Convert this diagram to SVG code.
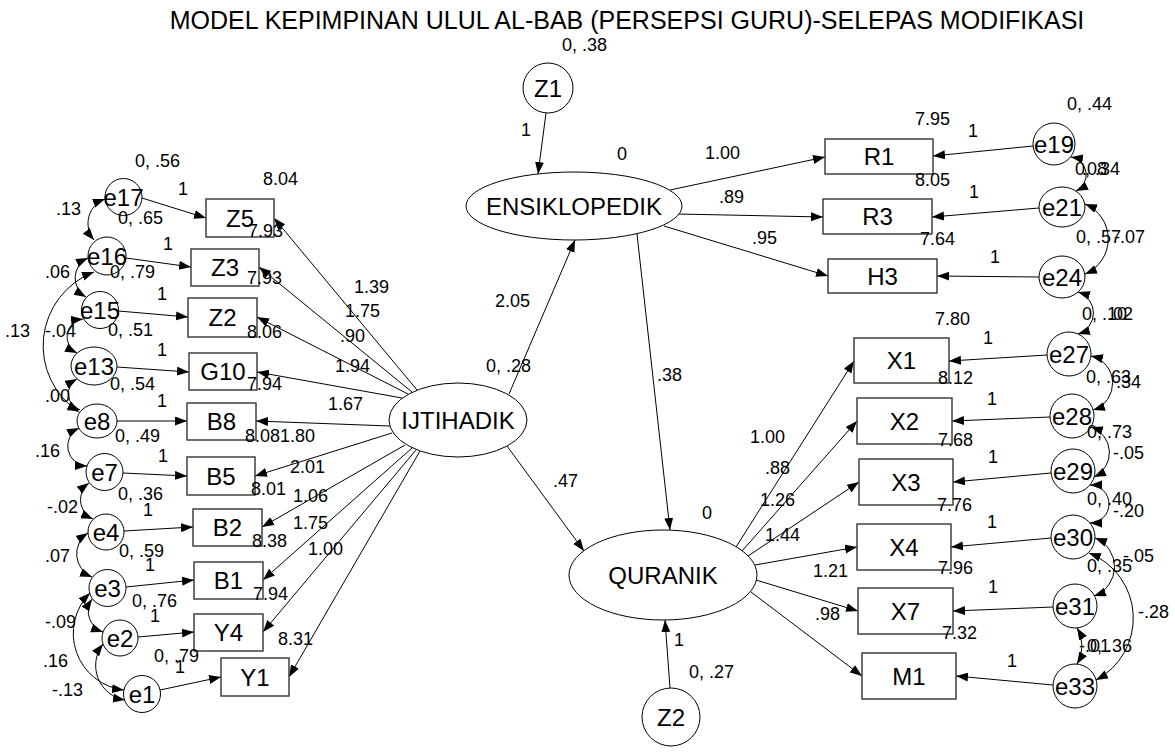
<svg xmlns="http://www.w3.org/2000/svg" width="1175" height="756" viewBox="0 0 1175 756">
<style>
text{font-family:"Liberation Sans",Arial,sans-serif;fill:#000}
.t{font-size:25px}
.n{font-size:18px}
.c{text-anchor:middle}
.lb{font-size:24px;text-anchor:middle}
.box{fill:#fff;stroke:#333;stroke-width:1.4}
.nd{fill:#fff;stroke:#000;stroke-width:1}
.ln{fill:none;stroke:#000;stroke-width:1;marker-end:url(#ah)}
.cv{fill:none;stroke:#000;stroke-width:1;marker-start:url(#ah);marker-end:url(#ah)}
</style>
<defs>
<marker id="ah" markerUnits="userSpaceOnUse" markerWidth="13" markerHeight="10" refX="12" refY="4.5" orient="auto-start-reverse"><path d="M0,0 L12,4.5 L0,9 z" fill="#000"/></marker>
</defs>
<rect width="1175" height="756" fill="#fff"/>
<text class="t c" x="627" y="29">MODEL KEPIMPINAN ULUL AL-BAB (PERSEPSI GURU)-SELEPAS MODIFIKASI</text>

<g id="connectors">
<line class="ln" x1="417" y1="390" x2="274" y2="218"/>
<line class="ln" x1="412" y1="392" x2="259" y2="267"/>
<line class="ln" x1="408" y1="394" x2="257" y2="317"/>
<line class="ln" x1="402" y1="398" x2="257" y2="372"/>
<line class="ln" x1="390" y1="426" x2="256" y2="421"/>
<line class="ln" x1="392" y1="433" x2="255" y2="476"/>
<line class="ln" x1="405" y1="445" x2="262" y2="527"/>
<line class="ln" x1="412" y1="448" x2="263" y2="580"/>
<line class="ln" x1="416" y1="450" x2="263" y2="632"/>
<line class="ln" x1="420" y1="451" x2="289" y2="677"/>
<line class="ln" x1="509" y1="394" x2="575" y2="240"/>
<line class="ln" x1="507" y1="446" x2="584" y2="551"/>
<line class="ln" x1="546" y1="113" x2="538" y2="174"/>
<line class="ln" x1="637" y1="234" x2="670" y2="530"/>
<line class="ln" x1="670" y1="688" x2="665" y2="620"/>
<line class="ln" x1="670" y1="190" x2="825" y2="157"/>
<line class="ln" x1="678" y1="214" x2="823" y2="217"/>
<line class="ln" x1="664" y1="226" x2="828" y2="276"/>
<line class="ln" x1="736" y1="547" x2="854" y2="361"/>
<line class="ln" x1="742" y1="551" x2="857" y2="421"/>
<line class="ln" x1="748" y1="556" x2="859" y2="482"/>
<line class="ln" x1="755" y1="565" x2="857" y2="547"/>
<line class="ln" x1="756" y1="580" x2="858" y2="611"/>
<line class="ln" x1="751" y1="592" x2="862" y2="676"/>
<line class="ln" x1="142" y1="198" x2="206" y2="218"/>
<line class="ln" x1="126" y1="258" x2="191" y2="267"/>
<line class="ln" x1="118.5" y1="311" x2="188" y2="317"/>
<line class="ln" x1="117" y1="367" x2="189" y2="372"/>
<line class="ln" x1="117" y1="421" x2="187" y2="421"/>
<line class="ln" x1="123" y1="473" x2="187" y2="476"/>
<line class="ln" x1="124" y1="531" x2="193" y2="527"/>
<line class="ln" x1="126" y1="587" x2="194" y2="580"/>
<line class="ln" x1="138" y1="637" x2="194" y2="632"/>
<line class="ln" x1="160" y1="690" x2="221" y2="677"/>
<line class="ln" x1="1033" y1="146" x2="933" y2="156"/>
<line class="ln" x1="1039" y1="208" x2="932" y2="217"/>
<line class="ln" x1="1039" y1="277" x2="937" y2="276"/>
<line class="ln" x1="1047" y1="355" x2="949" y2="361"/>
<line class="ln" x1="1050" y1="417" x2="952" y2="421"/>
<line class="ln" x1="1051" y1="473" x2="953" y2="482"/>
<line class="ln" x1="1051" y1="538" x2="951" y2="547"/>
<line class="ln" x1="1053" y1="607" x2="953" y2="611"/>
<line class="ln" x1="1053" y1="685" x2="956" y2="676"/>
<path class="cv" d="M105,199 A26,26 0 0 0 94,240"/>
<path class="cv" d="M88,258 A22,22 0 0 0 86,297"/>
<path class="cv" d="M94,272 A79,79 0 0 0 79,412"/>
<path class="cv" d="M83,319 A18,18 0 0 0 77,353"/>
<path class="cv" d="M77,379 A17,17 0 0 0 80,410"/>
<path class="cv" d="M79,428 A20,20 0 0 0 87,466"/>
<path class="cv" d="M89,483 A21,21 0 0 0 93,519"/>
<path class="cv" d="M88,533 A25,25 0 0 0 92,577"/>
<path class="cv" d="M92,599 A22,22 0 0 0 103,632"/>
<path class="cv" d="M90,593 A57,57 0 0 0 124,690"/>
<path class="cv" d="M103,644 A35,35 0 0 0 125,700"/>
<path class="cv" d="M1071,157 A18,18 0 0 1 1076,191"/>
<path class="cv" d="M1085,204 A38,38 0 0 1 1085,274"/>
<path class="cv" d="M1078,292 A22,22 0 0 1 1078,334"/>
<path class="cv" d="M1091,356 A28,28 0 0 1 1093,410"/>
<path class="cv" d="M1091,427 A27,27 0 0 1 1094,477"/>
<path class="cv" d="M1090,485 A19,19 0 0 1 1090,523"/>
<path class="cv" d="M1095,538 A31,31 0 0 1 1094,596"/>
<path class="cv" d="M1089,553 A70,70 0 0 1 1096,680"/>
<path class="cv" d="M1077,628 A35,35 0 0 1 1077,664"/>
</g>

<g id="IJTIHADIK"><ellipse class="nd" cx="458" cy="420" rx="69" ry="37"/><text class="lb" x="458" y="428.5">IJTIHADIK</text></g>
<g id="ENSIKLOPEDIK"><ellipse class="nd" cx="574" cy="206" rx="108" ry="34"/><text class="lb" x="574" y="214.5">ENSIKLOPEDIK</text></g>
<g id="QURANIK"><ellipse class="nd" cx="663" cy="575" rx="94" ry="45"/><text class="lb" x="663" y="583.5">QURANIK</text></g>
<g id="Z1"><circle class="nd" cx="548" cy="88" r="25"/><text class="lb" x="548" y="96.5">Z1</text></g>
<g id="Z2"><circle class="nd" cx="671" cy="717" r="29"/><text class="lb" x="671" y="725.5">Z2</text></g>

<g id="Z5b"><rect class="box" x="206" y="199" width="68" height="38"/><text class="lb" x="240" y="226.5">Z5</text></g>
<g id="Z3b"><rect class="box" x="191" y="249" width="68" height="37"/><text class="lb" x="225" y="276">Z3</text></g>
<g id="Z2b"><rect class="box" x="188" y="298" width="69" height="39"/><text class="lb" x="222.5" y="326">Z2</text></g>
<g id="G10"><rect class="box" x="189" y="353" width="68" height="37"/><text class="lb" x="223" y="380">G10</text></g>
<g id="B8"><rect class="box" x="187" y="403" width="69" height="37"/><text class="lb" x="221.5" y="430">B8</text></g>
<g id="B5"><rect class="box" x="187" y="457" width="68" height="38"/><text class="lb" x="221" y="484.5">B5</text></g>
<g id="B2"><rect class="box" x="193" y="509" width="69" height="37"/><text class="lb" x="227.5" y="536">B2</text></g>
<g id="B1"><rect class="box" x="194" y="562" width="69" height="37"/><text class="lb" x="228.5" y="589">B1</text></g>
<g id="Y4"><rect class="box" x="194" y="614" width="69" height="37"/><text class="lb" x="228.5" y="641">Y4</text></g>
<g id="Y1"><rect class="box" x="221" y="658" width="68" height="38"/><text class="lb" x="255" y="685.5">Y1</text></g>

<g id="R1"><rect class="box" x="825" y="139" width="108" height="35"/><text class="lb" x="879" y="165">R1</text></g>
<g id="R3"><rect class="box" x="823" y="199" width="109" height="35"/><text class="lb" x="877.5" y="225">R3</text></g>
<g id="H3"><rect class="box" x="828" y="259" width="109" height="34"/><text class="lb" x="882.5" y="284.5">H3</text></g>
<g id="X1"><rect class="box" x="854" y="338" width="95" height="45"/><text class="lb" x="901.5" y="369">X1</text></g>
<g id="X2"><rect class="box" x="857" y="398" width="95" height="46"/><text class="lb" x="904.5" y="429.5">X2</text></g>
<g id="X3"><rect class="box" x="859" y="459" width="94" height="46"/><text class="lb" x="906" y="490.5">X3</text></g>
<g id="X4"><rect class="box" x="857" y="524" width="94" height="46"/><text class="lb" x="904" y="555.5">X4</text></g>
<g id="X7"><rect class="box" x="858" y="588" width="95" height="46"/><text class="lb" x="905.5" y="619.5">X7</text></g>
<g id="M1"><rect class="box" x="862" y="653" width="94" height="46"/><text class="lb" x="909" y="684.5">M1</text></g>

<g id="e17"><circle class="nd" cx="123.5" cy="197" r="18.5"/><text class="lb" x="123.5" y="205.5">e17</text></g>
<g id="e16"><circle class="nd" cx="107" cy="256" r="19"/><text class="lb" x="107" y="264.5">e16</text></g>
<g id="e15"><circle class="nd" cx="100" cy="310" r="18.5"/><text class="lb" x="100" y="318.5">e15</text></g>
<g id="e13"><ellipse class="nd" cx="94" cy="366" rx="23" ry="19"/><text class="lb" x="94" y="374.5">e13</text></g>
<g id="e8"><ellipse class="nd" cx="97" cy="421" rx="20" ry="17"/><text class="lb" x="97" y="429.5">e8</text></g>
<g id="e7"><circle class="nd" cx="104.5" cy="472" r="18.5"/><text class="lb" x="104.5" y="480.5">e7</text></g>
<g id="e4"><circle class="nd" cx="106" cy="532" r="18"/><text class="lb" x="106" y="540.5">e4</text></g>
<g id="e3"><circle class="nd" cx="107.5" cy="588" r="18.5"/><text class="lb" x="107.5" y="596.5">e3</text></g>
<g id="e2"><circle class="nd" cx="120" cy="638" r="18"/><text class="lb" x="120" y="646.5">e2</text></g>
<g id="e1"><circle class="nd" cx="142" cy="694" r="18.5"/><text class="lb" x="142" y="702.5">e1</text></g>

<g id="e19"><circle class="nd" cx="1054" cy="144" r="21"/><text class="lb" x="1054" y="152.5">e19</text></g>
<g id="e21"><ellipse class="nd" cx="1062" cy="207" rx="23" ry="20"/><text class="lb" x="1062" y="215.5">e21</text></g>
<g id="e24"><ellipse class="nd" cx="1062" cy="277" rx="23" ry="21"/><text class="lb" x="1062" y="285.5">e24</text></g>
<g id="e27"><circle class="nd" cx="1069" cy="354" r="22"/><text class="lb" x="1069" y="362.5">e27</text></g>
<g id="e28"><circle class="nd" cx="1072" cy="416" r="22"/><text class="lb" x="1072" y="424.5">e28</text></g>
<g id="e29"><circle class="nd" cx="1073" cy="471" r="22"/><text class="lb" x="1073" y="479.5">e29</text></g>
<g id="e30"><circle class="nd" cx="1073" cy="537" r="22"/><text class="lb" x="1073" y="545.5">e30</text></g>
<g id="e31"><circle class="nd" cx="1075" cy="606" r="22"/><text class="lb" x="1075" y="614.5">e31</text></g>
<g id="e33"><circle class="nd" cx="1075" cy="686" r="22"/><text class="lb" x="1075" y="694.5">e33</text></g>

<g id="labels" class="n">
<text x="562" y="51">0, .38</text>
<text class="c" x="526" y="136">1</text>
<text class="c" x="622" y="160">0</text>
<text x="705" y="159">1.00</text>
<text x="719" y="203">.89</text>
<text x="752" y="244">.95</text>
<text x="495" y="307">2.05</text>
<text x="486" y="372">0, .28</text>
<text x="657" y="381">.38</text>
<text x="553" y="487">.47</text>
<text class="c" x="707" y="519">0</text>
<text x="750" y="443">1.00</text>
<text x="765" y="474">.88</text>
<text x="760" y="506">1.26</text>
<text x="765" y="541">1.44</text>
<text x="813" y="577">1.21</text>
<text x="815" y="620">.98</text>
<text class="c" x="679" y="646">1</text>
<text x="689" y="678">0, .27</text>
<text x="354" y="293">1.39</text>
<text x="345" y="317">1.75</text>
<text x="340" y="342">.90</text>
<text x="335" y="372">1.94</text>
<text x="328" y="410">1.67</text>
<text x="280" y="442">1.80</text>
<text x="290" y="473">2.01</text>
<text x="293" y="502">1.06</text>
<text x="293" y="529">1.75</text>
<text x="308" y="555">1.00</text>
<text x="263" y="185">8.04</text>
<text x="248" y="237">7.93</text>
<text x="247" y="284">7.93</text>
<text x="247" y="338">8.06</text>
<text x="247" y="390">7.94</text>
<text x="245" y="442">8.08</text>
<text x="251" y="495">8.01</text>
<text x="252" y="547">8.38</text>
<text x="253" y="600">7.94</text>
<text x="278" y="645">8.31</text>
<text x="135" y="167">0, .56</text>
<text x="118" y="224">0, .65</text>
<text x="110" y="278">0, .79</text>
<text x="108" y="336">0, .51</text>
<text x="110" y="390">0, .54</text>
<text x="115" y="442">0, .49</text>
<text x="118" y="500">0, .36</text>
<text x="119" y="557">0, .59</text>
<text x="132" y="607">0, .76</text>
<text x="154" y="662">0, .79</text>
<text class="c" x="183" y="195">1</text>
<text class="c" x="168" y="250">1</text>
<text class="c" x="162" y="300">1</text>
<text class="c" x="162" y="356">1</text>
<text class="c" x="162" y="407">1</text>
<text class="c" x="163" y="462">1</text>
<text class="c" x="148" y="516">1</text>
<text class="c" x="150" y="571">1</text>
<text class="c" x="155" y="622">1</text>
<text class="c" x="180" y="673">1</text>
<text x="56" y="215">.13</text>
<text x="45" y="278">.06</text>
<text x="5" y="337">.13</text>
<text x="45" y="337">-.04</text>
<text x="45" y="402">.00</text>
<text x="35" y="457">.16</text>
<text x="47" y="513">-.02</text>
<text x="45" y="562">.07</text>
<text x="45" y="628">-.09</text>
<text x="43" y="667">.16</text>
<text x="52" y="696">-.13</text>
<text x="1067" y="110">0, .44</text>
<text x="915" y="125">7.95</text>
<text class="c" x="973" y="137">1</text>
<text x="915" y="186">8.05</text>
<text class="c" x="974" y="198">1</text>
<text x="1075" y="175">0, .34</text>
<text x="1082" y="175">.08</text>
<text x="920" y="245">7.64</text>
<text class="c" x="995" y="263">1</text>
<text x="1076" y="243">0, .57</text>
<text x="1114" y="243">-.07</text>
<text x="1082" y="320">0, .10</text>
<text x="1108" y="320">.02</text>
<text x="935" y="325">7.80</text>
<text class="c" x="988" y="344">1</text>
<text x="938" y="384">8.12</text>
<text x="1086" y="383">0, .63</text>
<text x="1116" y="388">.34</text>
<text class="c" x="992" y="405">1</text>
<text x="1087" y="438">0, .73</text>
<text x="938" y="446">7.68</text>
<text x="1113" y="459">-.05</text>
<text class="c" x="993" y="463">1</text>
<text x="1087" y="505">0, .40</text>
<text x="937" y="511">7.76</text>
<text x="1113" y="517">-.20</text>
<text class="c" x="992" y="528">1</text>
<text x="1123" y="562">-.05</text>
<text x="1087" y="572">0, .35</text>
<text x="938" y="574">7.96</text>
<text class="c" x="993" y="593">1</text>
<text x="1138" y="618">-.28</text>
<text x="942" y="639">7.32</text>
<text x="1079" y="652">-.01</text>
<text x="1087" y="652">0, .36</text>
<text class="c" x="1012" y="667">1</text>
</g>
</svg>
